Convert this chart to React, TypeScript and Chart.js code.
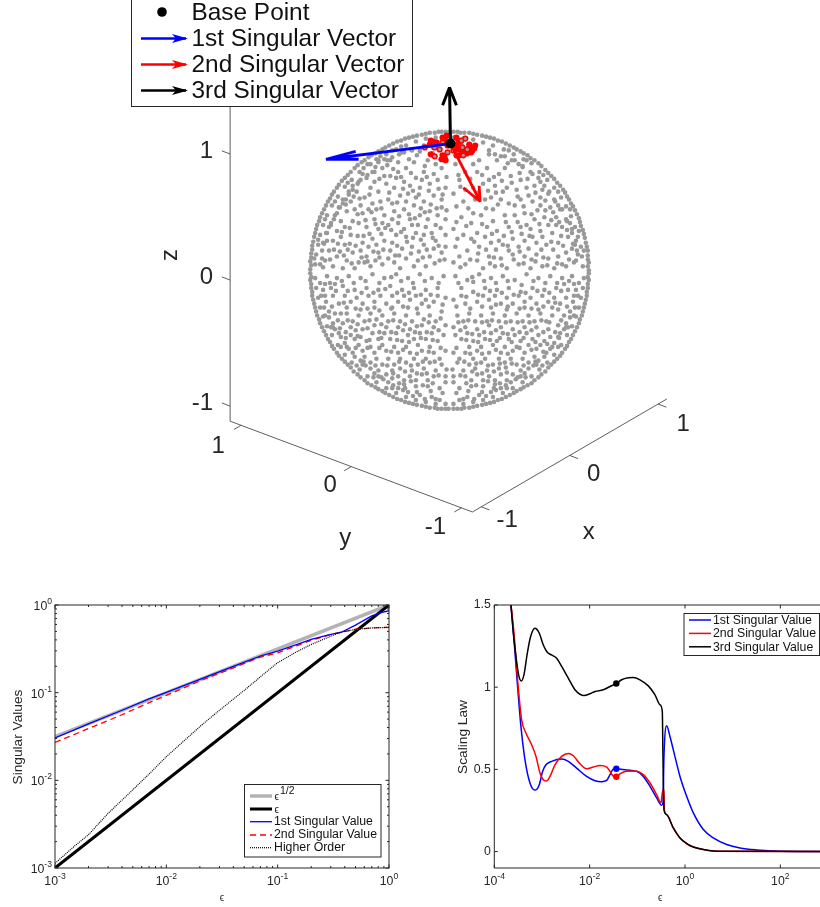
import React, { useEffect, useRef } from "react";
import { Chart, registerables } from "chart.js";

Chart.register(...registerables);

const FONT = '"Liberation Sans", Arial, sans-serif';
const INK = "#262626";
const GRAY = "#999999";

/* ---------- sphere plot: projected point positions ---------- */
const rimUpperRight = [[141,0],[141,8],[140,15],[139,24],[137,33],[135,41],[132,49],[129,57],[125,65],[121,72],[117,79],[112,86],[106,93],[100,99],[93,106],[86,112],[79,117],[72,121],[65,125],[57,129],[49,132],[41,135],[33,137],[24,139],[15,140],[8,141],[0,141],[135,4],[134,14],[133,24],[130,34],[127,44],[123,55],[118,65],[113,74],[106,84],[99,92],[91,100],[83,109],[75,113],[65,118],[55,123],[44,127],[34,130],[24,133],[14,134],[4,135],[136,20],[131,40],[122,62],[110,80],[95,97],[78,112],[60,122],[140,4],[140,11],[140,20],[138,28],[136,37],[133,45],[131,53],[127,61],[123,68],[119,75],[115,82],[109,89],[103,96],[97,102],[90,109],[82,114],[75,119],[68,123],[61,127],[53,131],[45,134],[37,136],[28,138],[20,140],[11,140],[4,141],[128,10],[127,26],[124,38],[119,50],[114,62],[107,70],[101,80],[92,90],[84,98],[74,105],[63,112],[52,116],[40,122],[26,126],[12,128],[129,20],[122,48],[110,66],[96,86],[70,108],[46,118],[18,124]];
const rimUpperLeft = [[-141,1],[-141,9],[-140,17],[-139,25],[-137,34],[-135,42],[-132,50],[-129,58],[-125,66],[-121,73],[-117,80],[-112,87],[-106,94],[-100,100],[-93,107],[-86,112],[-79,117],[-72,121],[-65,125],[-57,129],[-49,132],[-41,135],[-33,137],[-24,139],[-15,140],[-8,141],[-136,6],[-135,16],[-133,26],[-131,36],[-128,46],[-124,56],[-119,66],[-113,75],[-106,85],[-99,92],[-91,100],[-83,108],[-74,113],[-64,118],[-54,123],[-44,127],[-34,131],[-24,134],[-14,135],[-4,135],[-137,12],[-133,31],[-126,52],[-116,70],[-103,89],[-87,104],[-70,116],[-49,126],[-140,5],[-140,13],[-139,21],[-138,29],[-136,38],[-134,46],[-131,54],[-127,62],[-123,70],[-119,77],[-114,84],[-109,91],[-103,97],[-96,104],[-89,110],[-82,115],[-75,119],[-68,123],[-61,127],[-53,131],[-45,134],[-37,136],[-28,138],[-20,140],[-11,141],[-4,141],[-129,12],[-127,27],[-125,38],[-120,48],[-114,58],[-108,68],[-102,77],[-93,88],[-83,97],[-75,105],[-63,112],[-51,118],[-39,123],[-26,127],[-12,129],[-129,20],[-122,44],[-111,64],[-98,82],[-72,110],[-46,120],[-17,125],[-131,6],[-124,30],[-117,52],[-105,72],[-90,92],[-78,100],[-58,115],[-30,121]];
const rimLowerLeft = [[-141,-3],[-141,-10],[-140,-18],[-139,-26],[-137,-34],[-135,-42],[-132,-50],[-129,-58],[-125,-66],[-121,-73],[-117,-80],[-112,-87],[-106,-93],[-100,-99],[-93,-106],[-86,-112],[-79,-117],[-72,-121],[-65,-125],[-57,-129],[-49,-132],[-41,-135],[-33,-137],[-24,-139],[-15,-140],[-8,-141],[-1,-141],[-136,-8],[-135,-18],[-133,-28],[-131,-38],[-128,-47],[-124,-57],[-119,-66],[-113,-76],[-106,-86],[-99,-94],[-91,-101],[-83,-108],[-74,-114],[-64,-120],[-54,-125],[-44,-129],[-34,-132],[-24,-134],[-14,-136],[-4,-136],[-128,-20],[-125,-32],[-122,-42],[-118,-54],[-112,-64],[-106,-74],[-98,-84],[-90,-92],[-80,-100],[-72,-108],[-62,-114],[-52,-120],[-42,-124],[-30,-127],[-18,-129],[-131,-13],[-127,-38],[-116,-60],[-102,-80],[-85,-97],[-67,-111],[-47,-122],[-25,-131],[-10,-132],[-140,-7],[-140,-14],[-139,-22],[-138,-30],[-136,-38],[-134,-46],[-131,-54],[-127,-62],[-123,-70],[-119,-77],[-114,-84],[-109,-90],[-103,-96],[-97,-103],[-90,-109],[-83,-115],[-75,-119],[-68,-123],[-61,-127],[-53,-131],[-45,-134],[-37,-136],[-28,-138],[-20,-140],[-12,-141],[-4,-141],[-130,-26],[-126,-46],[-120,-58],[-110,-78],[-94,-97],[-77,-109],[-58,-120],[-37,-128],[-14,-131]];
const rimLowerRight = [[141,-3],[141,-10],[140,-18],[139,-26],[137,-34],[135,-42],[132,-50],[129,-58],[125,-66],[121,-73],[117,-80],[112,-87],[106,-93],[100,-99],[93,-106],[86,-112],[79,-117],[72,-121],[65,-125],[57,-129],[49,-132],[41,-135],[33,-137],[24,-139],[15,-140],[8,-141],[136,-8],[135,-18],[133,-28],[131,-38],[128,-47],[124,-57],[119,-66],[113,-76],[106,-86],[99,-94],[91,-101],[83,-108],[74,-114],[64,-120],[54,-125],[44,-129],[34,-132],[24,-134],[14,-136],[4,-136],[128,-20],[125,-32],[122,-42],[118,-54],[112,-64],[106,-74],[98,-84],[90,-92],[80,-100],[72,-108],[62,-114],[52,-120],[42,-124],[30,-127],[18,-129],[131,-13],[127,-38],[116,-60],[102,-80],[85,-97],[67,-111],[47,-122],[25,-131],[10,-132],[140,-7],[140,-14],[139,-22],[138,-30],[136,-38],[134,-46],[131,-54],[127,-62],[123,-70],[119,-77],[114,-84],[109,-90],[103,-96],[97,-103],[90,-109],[83,-115],[75,-119],[68,-123],[61,-127],[53,-131],[45,-134],[37,-136],[28,-138],[20,-140],[12,-141],[4,-141],[130,-26],[126,-46],[120,-58],[110,-78],[94,-97],[77,-109],[58,-120],[37,-128],[14,-131]];
const innerUpperLeft = [[-30,124],[-38,122],[-48,120],[-58,122],[-66,113],[-60,112],[-52,110],[-72,112],[-80,108],[-76,100],[-68,104],[-88,98],[-84,94],[-92,90],[-98,86],[-94,80],[-102,80],[-108,72],[-100,70],[-112,64],[-104,60],[-116,56],[-110,50],[-120,46],[-114,40],[-124,38],[-118,30],[-128,28],[-122,20],[-126,10],[-128,3],[-60,96],[-52,100],[-44,104],[-36,110],[-22,112],[-14,108],[-8,104],[-26,100],[-34,94],[-46,90],[-56,84],[-64,88],[-72,80],[-80,84],[-86,74],[-78,68],[-70,70],[-62,72],[-50,76],[-42,78],[-30,84],[-20,88],[-12,92],[-4,84],[-16,76],[-26,70],[-36,66],[-46,62],[-56,60],[-66,56],[-76,52],[-88,58],[-96,62],[-92,48],[-84,44],[-72,42],[-62,46],[-52,48],[-40,52],[-30,56],[-20,60],[-8,64],[-4,52],[-14,46],[-24,44],[-34,38],[-44,34],[-54,36],[-66,30],[-78,32],[-88,28],[-100,36],[-106,26],[-98,18],[-84,14],[-72,18],[-60,20],[-48,22],[-38,24],[-26,26],[-14,30],[-4,36],[-8,18],[-20,14],[-32,10],[-44,12],[-56,8],[-68,6],[-80,4],[-92,8],[-104,10],[-114,14],[-118,4],[-108,2],[-90,20],[-82,24],[-74,26],[-58,28],[-46,42],[-38,46],[-110,34],[-106,44],[-98,50],[-90,66],[-82,62],[-74,62],[-68,48],[-58,52],[-26,36],[-18,38],[-10,10],[-24,4],[-36,4],[-50,2],[-62,12],[-75,10],[-86,8],[-96,2],[-40,86],[-28,92],[-16,98],[-54,94],[-66,96],[-76,90],[-58,68],[-44,70],[-34,74],[-8,72],[-12,56],[-22,52],[-32,46],[-4,24],[-16,22],[-63,107],[-57,103],[-41,113],[-33,117],[-25,106],[-17,119],[-9,113],[-3,95],[-23,95],[-39,99],[-49,95],[-71,93],[-81,77],[-91,73],[-97,75],[-105,67],[-93,57],[-85,51],[-79,59],[-69,63],[-61,79],[-53,69],[-47,83],[-37,81],[-31,77],[-21,81],[-11,83],[-7,77],[-19,67],[-29,63],[-41,57],[-51,55],[-59,41],[-69,37],[-81,37],[-93,35],[-101,43],[-109,39],[-113,27],[-103,21],[-95,25],[-87,35],[-75,47],[-65,43],[-49,39],[-37,33],[-29,31],[-17,33],[-9,43],[-3,61],[-13,63],[-25,59],[-35,53],[-55,15],[-67,21],[-77,19],[-89,13],[-101,27],[-111,19],[-121,11],[-117,21],[-107,15],[-99,7],[-83,9],[-71,13],[-53,25],[-43,29],[-31,19],[-23,21],[-11,25],[-5,11],[-15,7],[-27,13],[-39,17],[-51,15]];
const innerUpperRight = [[30,112],[40,118],[48,112],[56,116],[66,112],[74,106],[82,100],[90,94],[86,86],[94,82],[100,78],[106,72],[102,64],[112,62],[108,54],[118,52],[114,44],[124,42],[120,34],[128,30],[124,22],[130,16],[126,8],[118,4],[6,108],[16,100],[28,100],[38,104],[50,98],[62,96],[72,92],[78,84],[68,82],[58,84],[46,86],[34,88],[24,84],[10,92],[4,78],[14,70],[26,72],[42,74],[52,72],[60,68],[72,72],[84,70],[92,66],[96,54],[86,52],[76,58],[66,56],[56,56],[44,62],[32,56],[22,48],[12,54],[4,42],[14,36],[28,38],[38,44],[48,40],[60,44],[72,44],[82,42],[92,40],[104,38],[110,28],[98,26],[88,28],[76,30],[64,32],[54,26],[42,28],[30,24],[18,20],[6,24],[4,8],[16,6],[28,10],[40,14],[52,12],[64,16],[76,14],[88,16],[100,12],[110,14],[106,2],[94,4],[82,2],[70,6],[58,2],[46,4],[34,2],[10,14],[44,50],[66,66],[50,30],[36,34],[80,22],[94,34],[108,46],[78,46],[70,24],[24,58],[16,82],[36,72],[54,80],[80,76],[92,74],[100,46],[118,18],[114,6],[22,32],[8,32],[60,20],[84,34],[40,92],[24,108],[56,104],[59,109],[71,99],[79,93],[87,79],[97,71],[105,59],[111,49],[103,51],[97,61],[89,61],[75,65],[83,57],[69,75],[63,89],[53,91],[45,95],[33,97],[21,93],[11,85],[9,97],[47,79],[39,81],[29,79],[19,63],[7,65],[37,63],[49,67],[57,49],[69,49],[91,47],[81,35],[73,37],[63,39],[55,35],[43,37],[33,47],[17,45],[7,49],[25,29],[37,21],[47,21],[59,25],[71,19],[83,11],[93,21],[105,21],[115,25],[121,11],[109,7],[99,5],[87,9],[75,7],[65,11],[53,5],[41,7],[29,17],[21,11],[11,3],[95,13],[103,29],[113,35],[119,41],[125,27],[45,13]];
const innerLowerLeft = [[-6,-6],[-18,-8],[-30,-4],[-42,-8],[-54,-4],[-66,-8],[-78,-4],[-90,-8],[-102,-6],[-114,-8],[-124,-6],[-120,-18],[-108,-16],[-96,-20],[-84,-18],[-72,-20],[-60,-16],[-48,-20],[-36,-18],[-24,-20],[-12,-18],[-4,-28],[-16,-32],[-28,-34],[-40,-30],[-52,-32],[-64,-34],[-76,-32],[-88,-34],[-100,-32],[-112,-34],[-116,-44],[-104,-44],[-92,-46],[-80,-44],[-68,-46],[-56,-44],[-44,-46],[-32,-44],[-20,-46],[-8,-42],[-4,-56],[-16,-58],[-28,-56],[-40,-60],[-52,-58],[-64,-58],[-76,-56],[-88,-60],[-100,-58],[-108,-54],[-96,-70],[-84,-72],[-72,-70],[-60,-70],[-48,-72],[-36,-70],[-24,-70],[-12,-72],[-4,-82],[-16,-84],[-28,-82],[-40,-84],[-52,-84],[-64,-82],[-76,-84],[-88,-82],[-80,-94],[-68,-96],[-56,-96],[-44,-94],[-32,-96],[-20,-94],[-8,-96],[-4,-108],[-16,-108],[-28,-106],[-40,-108],[-52,-108],[-64,-106],[-10,-120],[-22,-118],[-34,-118],[-46,-116],[-58,-102],[-72,-102],[-12,-26],[-24,-30],[-34,-26],[-46,-26],[-58,-26],[-70,-26],[-82,-26],[-94,-28],[-106,-26],[-118,-26],[-110,-44],[-98,-52],[-86,-52],[-74,-50],[-62,-52],[-50,-52],[-38,-52],[-26,-50],[-14,-52],[-6,-66],[-18,-64],[-30,-64],[-42,-66],[-54,-64],[-66,-64],[-78,-64],[-90,-68],[-100,-66],[-92,-76],[-80,-78],[-68,-76],[-56,-78],[-44,-78],[-32,-76],[-20,-78],[-10,-90],[-24,-90],[-36,-90],[-50,-90],[-62,-90],[-74,-90],[-86,-88],[-50,-100],[-38,-102],[-26,-100],[-14,-102],[-4,-114],[-34,-112],[-58,-110],[-46,-112],[-22,-112],[-126,-14],[-116,-14],[-104,-38],[-90,-40],[-76,-38],[-58,-38],[-42,-38],[-11,-13],[-25,-11],[-37,-13],[-49,-11],[-59,-7],[-71,-13],[-85,-11],[-97,-13],[-109,-11],[-121,-13],[-115,-21],[-103,-21],[-89,-23],[-77,-23],[-65,-19],[-53,-23],[-41,-23],[-29,-25],[-19,-25],[-7,-35],[-21,-37],[-33,-39],[-47,-37],[-59,-39],[-71,-41],[-83,-39],[-95,-39],[-107,-33],[-119,-37],[-113,-51],[-103,-51],[-93,-55],[-81,-51],[-69,-55],[-57,-51],[-45,-55],[-33,-57],[-21,-53],[-9,-49],[-11,-61],[-23,-63],[-35,-63],[-47,-61],[-59,-63],[-71,-63],[-83,-59],[-95,-61],[-105,-63],[-111,-59],[-105,-69],[-93,-67],[-81,-71],[-69,-69],[-53,-71],[-41,-73],[-29,-69],[-17,-71],[-9,-79],[-21,-83],[-33,-85],[-47,-81],[-59,-83],[-71,-79],[-83,-79],[-95,-79],[-87,-93],[-75,-97],[-63,-97],[-51,-93],[-39,-97],[-27,-93],[-15,-93],[-3,-101],[-11,-107],[-23,-105],[-33,-105],[-45,-103],[-57,-105],[-69,-109],[-51,-115],[-39,-113],[-27,-117],[-17,-115],[-7,-125],[-19,-123],[-33,-124],[-45,-120],[-57,-117],[-76,-105],[-88,-96],[-96,-88],[-104,-78],[-110,-68],[-118,-58],[-122,-48],[-126,-26]];
const innerLowerRight = [[6,-6],[18,-10],[30,-4],[42,-8],[54,-6],[66,-10],[78,-4],[90,-8],[102,-6],[114,-8],[124,-6],[120,-20],[108,-18],[96,-20],[84,-18],[72,-22],[60,-18],[48,-20],[36,-18],[24,-22],[12,-18],[4,-30],[16,-34],[28,-32],[40,-30],[52,-34],[64,-34],[76,-32],[88,-34],[100,-32],[112,-34],[116,-46],[104,-46],[92,-44],[80,-46],[68,-44],[56,-46],[44,-44],[32,-46],[20,-44],[8,-46],[4,-58],[16,-58],[28,-60],[40,-56],[52,-58],[64,-60],[76,-58],[88,-58],[100,-60],[110,-56],[96,-72],[84,-70],[72,-72],[60,-70],[48,-72],[36,-70],[24,-72],[12,-70],[4,-84],[16,-84],[28,-82],[40,-84],[52,-84],[64,-82],[76,-84],[88,-80],[80,-94],[68,-96],[56,-94],[44,-96],[32,-94],[20,-96],[8,-94],[4,-108],[16,-108],[28,-106],[40,-108],[52,-106],[64,-106],[10,-120],[22,-118],[34,-118],[46,-116],[58,-104],[72,-102],[12,-26],[24,-12],[34,-26],[46,-26],[58,-28],[70,-26],[82,-28],[94,-26],[106,-28],[118,-28],[110,-40],[98,-52],[86,-52],[74,-52],[62,-52],[50,-52],[38,-52],[26,-52],[14,-52],[6,-66],[18,-64],[30,-66],[42,-64],[54,-64],[66,-66],[78,-64],[90,-66],[102,-68],[92,-76],[80,-76],[68,-78],[56,-78],[44,-76],[32,-78],[20,-78],[10,-90],[24,-90],[36,-90],[50,-90],[62,-90],[74,-90],[86,-88],[50,-100],[38,-102],[26,-100],[14,-102],[4,-114],[34,-112],[58,-112],[46,-112],[22,-112],[126,-14],[116,-14],[104,-38],[90,-40],[76,-38],[58,-40],[42,-38],[9,-13],[23,-7],[35,-11],[47,-13],[59,-11],[73,-15],[85,-11],[97,-13],[109,-13],[121,-11],[113,-21],[101,-23],[89,-21],[77,-23],[65,-25],[53,-23],[41,-21],[29,-25],[17,-27],[7,-37],[21,-39],[33,-37],[47,-35],[59,-37],[71,-39],[83,-39],[95,-37],[107,-33],[119,-37],[113,-51],[101,-53],[93,-51],[81,-53],[69,-53],[57,-53],[43,-51],[33,-53],[19,-51],[9,-53],[11,-61],[23,-65],[35,-63],[47,-61],[59,-65],[71,-63],[83,-61],[95,-63],[107,-63],[111,-69],[99,-75],[87,-73],[75,-69],[63,-73],[51,-69],[41,-71],[29,-73],[17,-71],[7,-79],[21,-85],[33,-85],[47,-81],[59,-85],[71,-79],[83,-81],[95,-83],[87,-93],[75,-97],[63,-95],[51,-95],[39,-97],[27,-95],[15,-93],[3,-101],[11,-107],[23,-103],[33,-105],[45,-103],[57,-99],[69,-109],[51,-115],[39,-113],[27,-117],[17,-115],[7,-125],[19,-123],[33,-124],[45,-120],[57,-117],[76,-105],[88,-96],[96,-88],[104,-78],[110,-68],[118,-58],[122,-48],[126,-26]];
const redCluster = [[-19,132],[-20,128],[-13,130],[-7,135],[-3,137],[-7,130],[7,135],[12,132],[16,134],[20,128],[25,124],[22,120],[18,123],[13,125],[9,123],[14,117],[-15,116],[-19,118],[-5,115],[-7,117],[-2,120],[-10,123],[-15,125],[-25,125],[7,117],[4,122],[18,119],[23,122],[10,117],[13,121],[-2,127],[7,127],[-17,131],[-5,133],[-8,113],[-4,112],[20,125],[26,127],[3,129],[9,130]];
const grayOverRed = [[-15,116],[-25,125],[-15,125],[-10,123],[-2,120],[7,117],[13,125],[18,123],[14,117],[12,132],[16,134],[4,122],[-7,130]];

const basePoint = [1, 129];
const arrow1 = [[1,129],[-125,113],[-95,121],[-125,113],[-92,113]];
const arrow2 = [[1,129],[31,70],[14,84],[31,70],[30,86]];
const arrow3 = [[1,129],[0,186],[-7,168],[0,186],[7,168]];

/* ---------- 3D axes ---------- */
const xTicks3D = [-1, 0, 1];
const yTicks3D = [1, 0, -1];
const zTicks3D = [1, 0, -1];

/* ---------- singular values panel ---------- */
const sqrtEps = [0.001, 1];
const sqrtVals = [0.0316, 1];
const lineEps = [0.001, 1];
const lineVals = [0.001, 1];
const sv1Eps = [0.001,0.002,0.004,0.007,0.01,0.02,0.04,0.07,0.1,0.15,0.2,0.3,0.37,0.5,0.7,0.85,1];
const sv1Vals = [0.0305,0.044,0.063,0.085,0.101,0.142,0.199,0.262,0.298,0.355,0.405,0.463,0.486,0.59,0.75,0.82,0.86];
const sv2Eps = [0.001,0.002,0.004,0.007,0.01,0.02,0.04,0.07,0.1,0.15,0.2,0.3,0.37,0.5,0.7,1];
const sv2Vals = [0.027,0.039,0.056,0.077,0.093,0.136,0.192,0.255,0.285,0.345,0.395,0.46,0.49,0.53,0.548,0.556];
const hoEps = [0.001,0.0015,0.002,0.003,0.005,0.007,0.01,0.015,0.02,0.03,0.05,0.07,0.1,0.15,0.2,0.3,0.37,0.5,0.7,1];
const hoVals = [0.00113,0.00178,0.0024,0.0042,0.0078,0.0118,0.0186,0.0295,0.041,0.063,0.106,0.152,0.22,0.295,0.355,0.44,0.49,0.525,0.548,0.556];
const leftMajor = [0.001, 0.01, 0.1, 1];
const minorMultipliers = [2,3,4,5,6,7,8,9];

/* ---------- scaling law panel (log10 of epsilon, value) ---------- */
const law1Log = [-3.65,-3.587,-3.517,-3.448,-3.357,-3.252,-3.147,-3.056,-2.986,-2.916,-2.797,-2.587,-2.448,-2.273,-2.063,-1.888,-1.748,-1.643,-1.573,-1.503,-1.441,-1.224,-1.014,-0.874,-0.734,-0.594,-0.49,-0.462,-0.441,-0.385,-0.315,-0.245,-0.105,0.035,0.175,0.385,0.594,0.874,1.154,1.503,2,3];
const law1Vals = [1.5,1.287,1.024,0.781,0.559,0.417,0.374,0.407,0.488,0.528,0.549,0.563,0.549,0.508,0.457,0.431,0.425,0.433,0.468,0.502,0.504,0.496,0.488,0.457,0.397,0.326,0.281,0.296,0.579,0.765,0.7,0.619,0.457,0.336,0.235,0.134,0.083,0.043,0.022,0.01,0.002,0];
const law2Log = [-3.65,-3.587,-3.517,-3.427,-3.336,-3.217,-3.126,-3.042,-2.958,-2.902,-2.832,-2.727,-2.587,-2.448,-2.343,-2.203,-2.063,-1.923,-1.783,-1.643,-1.573,-1.517,-1.441,-1.364,-1.224,-1.049,-0.874,-0.734,-0.594,-0.503,-0.476,-0.441,-0.434,-0.385,-0.245,-0.105,0.035,0.175,0.385,0.664,3];
const law2Vals = [1.5,1.328,1.065,0.802,0.721,0.65,0.579,0.478,0.433,0.429,0.457,0.528,0.579,0.597,0.583,0.534,0.504,0.514,0.524,0.514,0.488,0.462,0.453,0.472,0.488,0.49,0.468,0.417,0.346,0.296,0.356,0.377,0.255,0.225,0.144,0.083,0.049,0.028,0.012,0.002,0];
const law3Log = [-3.65,-3.6,-3.545,-3.49,-3.434,-3.378,-3.308,-3.238,-3.147,-3.056,-2.972,-2.888,-2.797,-2.692,-2.587,-2.448,-2.308,-2.203,-2.119,-1.993,-1.888,-1.713,-1.573,-1.441,-1.329,-1.189,-1.084,-0.944,-0.769,-0.629,-0.524,-0.476,-0.462,-0.441,-0.385,-0.245,-0.105,0.035,0.175,0.385,0.664,3];
const law3Vals = [1.5,1.328,1.186,1.075,1.038,1.075,1.206,1.308,1.358,1.328,1.257,1.213,1.196,1.176,1.126,1.055,0.984,0.957,0.949,0.96,0.974,0.984,1.004,1.022,1.045,1.057,1.059,1.045,1.008,0.953,0.893,0.852,0.579,0.255,0.225,0.144,0.083,0.049,0.028,0.012,0.002,0];
const markLog = -1.441;
const markVals = [0.504, 0.455, 1.022];
const lawXMajor = [1e-4, 1e-2, 1, 100];
const lawYMajor = [0, 0.5, 1, 1.5];

const singularLegend = ["1st Singular Value", "2nd Singular Value", "3rd Singular Value"];
const vectorLegend = ["1st Singular Vector", "2nd Singular Vector", "3rd Singular Vector"];
const vectorColors = ["#0000ff", "#ff0000", "#000000"];

/* ---------- helpers ---------- */
const xy = (pts: number[][]) => pts.map(([x, y]) => ({ x, y }));
const zip = (xs: number[], ys: number[]) => xs.map((x, i) => ({ x, y: ys[i] }));

const project = (x: number, y: number, z: number) => ({
  x: -1 + 89.5 * x - 111.5 * y,
  y: 1.4 + 52.3 * x + 42 * y + 128.3 * z,
});
const X_LIM = 1.1, Y_LIM = 1.1, Z_LOW = -1.12, Z_TOP = 1.4;

function segment(a: { x: number; y: number }, b: { x: number; y: number }, color = "#4d4d4d", width = 0.9) {
  return { data: [a, b], showLine: true, borderColor: color, borderWidth: width, pointRadius: 0 };
}

function pow10(ctx: CanvasRenderingContext2D, x: number, y: number, exp: string, align: "center" | "right") {
  ctx.textBaseline = "alphabetic";
  ctx.textAlign = "left";
  ctx.font = `12.3px ${FONT}`;
  const bw = ctx.measureText("10").width;
  ctx.font = `8.6px ${FONT}`;
  const ew = ctx.measureText(exp).width;
  const left = align === "center" ? x - (bw + ew) / 2 : x - bw - ew;
  ctx.font = `12.3px ${FONT}`;
  ctx.fillText("10", left, y);
  ctx.font = `8.6px ${FONT}`;
  ctx.fillText(exp, left + bw, y - 6);
}

function legendFrame(ctx: CanvasRenderingContext2D, x: number, y: number, w: number, h: number) {
  ctx.fillStyle = "#ffffff";
  ctx.fillRect(x, y, w, h);
  ctx.strokeStyle = "#262626";
  ctx.lineWidth = 1;
  ctx.setLineDash([]);
  ctx.strokeRect(x + 0.5, y + 0.5, w, h);
}

function sample(ctx: CanvasRenderingContext2D, x0: number, x1: number, y: number, color: string, width: number, dash: number[] = []) {
  ctx.strokeStyle = color;
  ctx.lineWidth = width;
  ctx.setLineDash(dash);
  ctx.beginPath();
  ctx.moveTo(x0, y);
  ctx.lineTo(x1, y);
  ctx.stroke();
  ctx.setLineDash([]);
}

function inwardX(ctx: CanvasRenderingContext2D, px: number, top: number, bottom: number, len: number) {
  ctx.beginPath();
  ctx.moveTo(px, bottom); ctx.lineTo(px, bottom - len);
  ctx.moveTo(px, top); ctx.lineTo(px, top + len);
  ctx.stroke();
}
function inwardY(ctx: CanvasRenderingContext2D, py: number, left: number, right: number, len: number, both: boolean) {
  ctx.beginPath();
  ctx.moveTo(left, py); ctx.lineTo(left + len, py);
  if (both) { ctx.moveTo(right, py); ctx.lineTo(right - len, py); }
  ctx.stroke();
}

/* ---------- plugins ---------- */
const spherePlugin = {
  id: "sphereText",
  afterDraw(chart: any) {
    const { ctx, scales: { x: sx, y: sy } } = chart;
    const P = (p: { x: number; y: number }) => [sx.getPixelForValue(p.x), sy.getPixelForValue(p.y)];
    ctx.save();
    ctx.fillStyle = INK;
    ctx.font = `24px ${FONT}`;
    ctx.textAlign = "center";
    ctx.textBaseline = "middle";
    const label = (p: { x: number; y: number }, dx: number, dy: number, t: string | number) => {
      const [a, b] = P(p);
      ctx.fillText(String(t), a + dx, b + dy);
    };
    zTicks3D.forEach((t) => {
      const [a, b] = P(project(-X_LIM, Y_LIM, t));
      ctx.textAlign = "right";
      ctx.fillText(String(t), a - 17, b - 3);
    });
    ctx.textAlign = "center";
    yTicks3D.forEach((t) => label(project(-X_LIM, t, Z_LOW), t < 0 ? -26 : t > 0 ? -23 : -21, t > 0 ? 21 : t < 0 ? 20 : 19, t));
    xTicks3D.forEach((t) => label(project(t, -Y_LIM, Z_LOW), t < 0 ? 26 : t > 0 ? 25 : 24, t < 0 ? 14 : t > 0 ? 20 : 19, t));
    const [yl, yb] = P(project(-X_LIM, 0, Z_LOW));
    ctx.fillText("y", yl - 6, yb + 72);
    const [xl, xb] = P(project(0, -Y_LIM, Z_LOW));
    ctx.fillText("x", xl + 19, xb + 77);
    ctx.save();
    ctx.translate(170, 255);
    ctx.rotate(-Math.PI / 2);
    ctx.fillText("z", 0, 0);
    ctx.restore();

    legendFrame(ctx, 131, -3, 281, 109);
    ctx.fillStyle = "#000000";
    ctx.beginPath();
    ctx.arc(162, 12, 4.8, 0, Math.PI * 2);
    ctx.fill();
    ctx.fillStyle = "#111111";
    ctx.textAlign = "left";
    ctx.font = `24.4px ${FONT}`;
    ctx.fillText("Base Point", 191.5, 13);
    [38.5, 64.5, 90.5].forEach((yy, i) => {
      const c = vectorColors[i];
      sample(ctx, 141, 186, yy, c, 2.6);
      ctx.fillStyle = c;
      ctx.beginPath();
      ctx.moveTo(172, yy - 4.5);
      ctx.lineTo(188, yy);
      ctx.lineTo(172, yy + 4.5);
      ctx.lineTo(176, yy);
      ctx.closePath();
      ctx.fill();
      ctx.fillStyle = "#111111";
      ctx.fillText(vectorLegend[i], 191.5, yy + 0.5);
    });
    ctx.restore();
  },
};

const valuesPlugin = {
  id: "valuesDecor",
  afterDraw(chart: any) {
    const { ctx, chartArea: a, scales: { x: sx, y: sy } } = chart;
    ctx.save();
    ctx.strokeStyle = INK;
    ctx.lineWidth = 1;
    ctx.strokeRect(a.left, a.top, a.right - a.left, a.bottom - a.top);
    leftMajor.forEach((m, i) => {
      const px = sx.getPixelForValue(m), py = sy.getPixelForValue(m);
      inwardX(ctx, px, a.top, a.bottom, 3.5);
      inwardY(ctx, py, a.left, a.right, 3.5, true);
      if (i < leftMajor.length - 1) minorMultipliers.forEach((k) => {
        inwardX(ctx, sx.getPixelForValue(m * k), a.top, a.bottom, 2);
        inwardY(ctx, sy.getPixelForValue(m * k), a.left, a.right, 2, true);
      });
    });
    ctx.fillStyle = INK;
    leftMajor.forEach((m) => {
      const e = String(Math.round(Math.log10(m)));
      pow10(ctx, sx.getPixelForValue(m), a.bottom + 17, e, "center");
      pow10(ctx, a.left - 3, sy.getPixelForValue(m) + 5, e, "right");
    });
    ctx.font = `10px ${FONT}`;
    ctx.textAlign = "center";
    ctx.textBaseline = "middle";
    ctx.fillText("ϵ", (a.left + a.right) / 2, a.bottom + 30);
    ctx.save();
    ctx.translate(18, 147);
    ctx.rotate(-Math.PI / 2);
    ctx.font = `13.7px ${FONT}`;
    ctx.fillText("Singular Values", 0, 0);
    ctx.restore();

    legendFrame(ctx, 244, 194, 136.5, 72.5);
    sample(ctx, 250, 272, 206, "#b3b3b3", 3.5);
    sample(ctx, 250, 272, 219, "#000000", 3);
    sample(ctx, 250, 272, 231.7, "#0000ff", 1.3);
    sample(ctx, 250, 272, 245, "#ff0000", 1.3, [6, 4]);
    sample(ctx, 250, 272, 257.7, "#000000", 1.2, [1, 1]);
    ctx.fillStyle = "#111111";
    ctx.textAlign = "left";
    ctx.font = `10px ${FONT}`;
    ctx.fillText("ϵ", 274.5, 207.5);
    ctx.fillText("ϵ", 274.5, 220);
    ctx.font = `10.5px ${FONT}`;
    ctx.fillText("1/2", 280, 201);
    ctx.font = `12.3px ${FONT}`;
    ctx.fillText("1st Singular Value", 274, 232);
    ctx.fillText("2nd Singular Value", 274, 245);
    ctx.fillText("Higher Order", 274, 258);
    ctx.restore();
  },
};

const lawPlugin = {
  id: "lawDecor",
  afterDraw(chart: any) {
    const { ctx, chartArea: a, scales: { x: sx, y: sy } } = chart;
    ctx.save();
    ctx.strokeStyle = INK;
    ctx.lineWidth = 1;
    ctx.beginPath();
    ctx.moveTo(a.right, a.top); ctx.lineTo(a.left, a.top); ctx.lineTo(a.left, a.bottom); ctx.lineTo(a.right, a.bottom);
    ctx.stroke();
    lawXMajor.forEach((m) => inwardX(ctx, sx.getPixelForValue(m), a.top, a.bottom, 3.5));
    lawYMajor.forEach((v) => inwardY(ctx, sy.getPixelForValue(v), a.left, a.right, 3.5, false));
    ctx.fillStyle = INK;
    lawXMajor.forEach((m) => pow10(ctx, sx.getPixelForValue(m), a.bottom + 17, String(Math.round(Math.log10(m))), "center"));
    ctx.font = `12.3px ${FONT}`;
    ctx.textAlign = "right";
    ctx.textBaseline = "middle";
    lawYMajor.forEach((v) => ctx.fillText(String(v), a.left - 3.5, sy.getPixelForValue(v)));
    ctx.textAlign = "center";
    ctx.font = `10px ${FONT}`;
    ctx.fillText("ϵ", (a.left + a.right) / 2 - 1, a.bottom + 30);
    ctx.save();
    ctx.translate(23, 147);
    ctx.rotate(-Math.PI / 2);
    ctx.font = `13.7px ${FONT}`;
    ctx.fillText("Scaling Law", 0, 0);
    ctx.restore();

    legendFrame(ctx, 243.5, 23, 135.5, 42);
    ["#0000ff", "#ff0000", "#000000"].forEach((c, i) => {
      const yy = 30 + i * 13.4;
      sample(ctx, 249, 271, yy, c, 1.5);
      ctx.fillStyle = "#111111";
      ctx.textAlign = "left";
      ctx.font = `12.3px ${FONT}`;
      ctx.fillText(singularLegend[i], 273, yy + 0.5);
    });
    ctx.restore();
  },
};

/* ---------- configs ---------- */
function sphereConfig(): any {
  const dots = (pts: number[][], color: string, r: number) => ({
    data: xy(pts), showLine: false, pointRadius: r, pointBackgroundColor: color, pointBorderWidth: 0,
  });
  const arrow = (pts: number[][], color: string, w: number) => ({
    data: xy(pts), showLine: true, borderColor: color, borderWidth: w, pointRadius: 0, borderJoinStyle: "bevel",
  });
  const axes: any[] = [
    segment(project(-X_LIM, Y_LIM, Z_LOW), project(-X_LIM, Y_LIM, Z_TOP)),
    segment(project(-X_LIM, Y_LIM, Z_LOW), project(-X_LIM, -Y_LIM, Z_LOW)),
    segment(project(-X_LIM, -Y_LIM, Z_LOW), project(X_LIM, -Y_LIM, Z_LOW)),
  ];
  zTicks3D.forEach((t) => axes.push(segment(project(-X_LIM, Y_LIM, t), project(-X_LIM, Y_LIM + 0.075, t))));
  yTicks3D.forEach((t) => axes.push(segment(project(-X_LIM, t, Z_LOW), project(-X_LIM - 0.08, t, Z_LOW))));
  xTicks3D.forEach((t) => axes.push(segment(project(t, -Y_LIM, Z_LOW), project(t, -Y_LIM - 0.075, Z_LOW))));
  const sphere = [...rimUpperRight, ...rimUpperLeft, ...rimLowerLeft, ...rimLowerRight, ...innerUpperLeft, ...innerUpperRight, ...innerLowerLeft, ...innerLowerRight];
  const layers = [
    ...axes,
    dots(sphere, GRAY, 2.3),
    dots(redCluster, "#ff0000", 3.1),
    dots(grayOverRed, GRAY, 1.6),
    arrow(arrow1, vectorColors[0], 2.8),
    arrow(arrow2, vectorColors[1], 2.8),
    arrow(arrow3, vectorColors[2], 3),
    dots([basePoint], "#000000", 5),
  ];
  return {
    type: "scatter",
    data: { datasets: layers.reverse() },
    options: {
      responsive: false, animation: false,
      layout: { padding: 0 },
      plugins: { legend: { display: false }, tooltip: { enabled: false } },
      scales: {
        x: { type: "linear", display: false, min: -450, max: 370 },
        y: { type: "linear", display: false, min: -300, max: 270 },
      },
    },
    plugins: [spherePlugin],
  };
}

function quietAxis(extra: any, size: number, horizontal: boolean): any {
  return {
    ...extra,
    grid: { display: false, drawTicks: false },
    border: { display: false },
    ticks: { display: false },
    afterFit: (s: any) => { if (horizontal) s.height = size; else s.width = size; },
  };
}

function valuesConfig(): any {
  const line = (data: any[], color: string, width: number, dash: number[] = []) => ({
    data, showLine: true, borderColor: color, borderWidth: width, borderDash: dash, pointRadius: 0,
  });
  const layers = [
    line(zip(sqrtEps, sqrtVals), "#b3b3b3", 3.5),
    line(zip(lineEps, lineVals), "#000000", 3),
    line(zip(sv2Eps, sv2Vals), "#ff0000", 1.3, [6, 4]),
    line(zip(sv1Eps, sv1Vals), "#0000ff", 1.3),
    line(zip(hoEps, hoVals), "#000000", 1.2, [1, 1]),
  ];
  return {
    type: "scatter",
    data: { datasets: layers.reverse() },
    options: {
      responsive: false, animation: false,
      layout: { padding: { top: 15, right: 21 } },
      plugins: { legend: { display: false }, tooltip: { enabled: false } },
      scales: {
        x: quietAxis({ type: "logarithmic", min: 0.001, max: 1 }, 39, true),
        y: quietAxis({ type: "logarithmic", min: 0.001, max: 1 }, 55, false),
      },
    },
    plugins: [valuesPlugin],
  };
}

function lawConfig(): any {
  const line = (logs: number[], vals: number[], color: string) => ({
    data: logs.map((l, i) => ({ x: 10 ** l, y: vals[i] })),
    showLine: true, borderColor: color, borderWidth: 1.5, pointRadius: 0, cubicInterpolationMode: "monotone",
  });
  const mark = (v: number, color: string) => ({
    data: [{ x: 10 ** markLog, y: v }], showLine: false, pointRadius: 3.2, pointBackgroundColor: color, pointBorderWidth: 0,
  });
  const layers = [
    line(law1Log, law1Vals, "#0000ff"),
    line(law2Log, law2Vals, "#ff0000"),
    line(law3Log, law3Vals, "#000000"),
    mark(markVals[0], "#0000ff"),
    mark(markVals[1], "#ff0000"),
    mark(markVals[2], "#000000"),
  ];
  return {
    type: "scatter",
    data: { datasets: layers.reverse() },
    options: {
      responsive: false, animation: false,
      layout: { padding: { top: 15, right: 12 } },
      plugins: { legend: { display: false }, tooltip: { enabled: false } },
      scales: {
        x: quietAxis({ type: "logarithmic", min: 1e-4, max: 1e3 }, 39, true),
        y: quietAxis({ type: "linear", min: -0.1, max: 1.5 }, 54.3, false),
      },
    },
    plugins: [lawPlugin],
  };
}

function Panel({ config, left, top, width, height }: { config: () => any; left: number; top: number; width: number; height: number }) {
  const ref = useRef<HTMLCanvasElement>(null);
  useEffect(() => {
    const chart = new Chart(ref.current as HTMLCanvasElement, config());
    return () => chart.destroy();
  }, [config]);
  return <canvas ref={ref} width={width} height={height} style={{ position: "absolute", left, top, width, height }} />;
}

export default function App() {
  return (
    <div style={{ position: "absolute", left: 0, top: 0, width: 820, height: 907, overflow: "hidden", background: "#fff" }}>
      <Panel config={sphereConfig} left={0} top={0} width={820} height={570} />
      <Panel config={valuesConfig} left={0} top={590} width={410} height={317} />
      <Panel config={lawConfig} left={440} top={590} width={400} height={317} />
    </div>
  );
}
